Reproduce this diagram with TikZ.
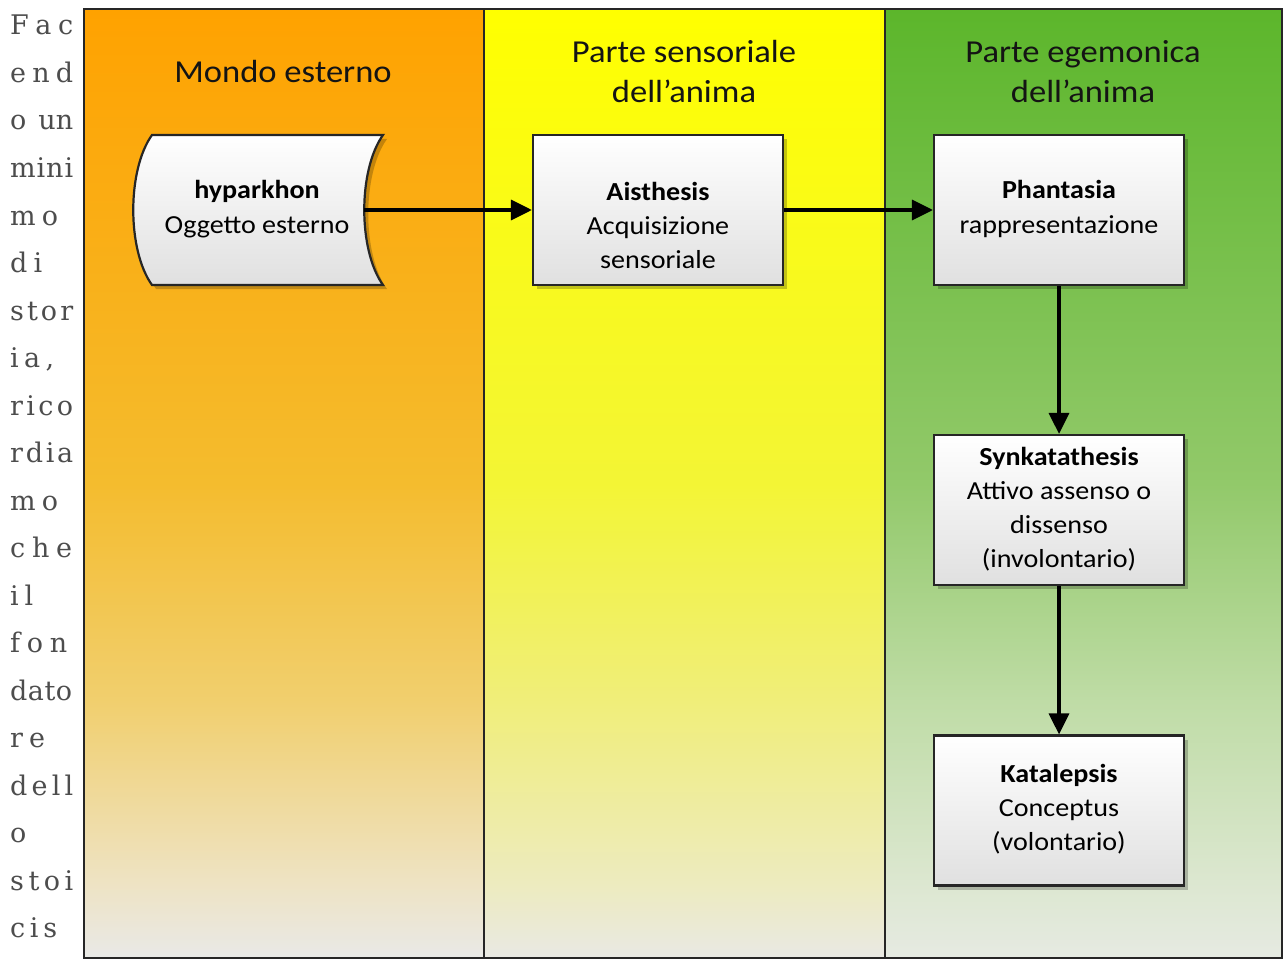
\documentclass[tikz,border=0pt]{standalone}
\usepackage{fontspec}
\setmainfont{Carlito}[FakeStretch=1.08]
\newfontfamily\sidefont{DejaVu Serif}
\usetikzlibrary{arrows.meta,shadows}

\definecolor{oA}{HTML}{E9E9E7}\definecolor{oB}{HTML}{EEE3C3}\definecolor{oC}{HTML}{F1CF6E}\definecolor{oD}{HTML}{F4BC2E}\definecolor{oE}{HTML}{FFA200}
\definecolor{yA}{HTML}{E9E9E4}\definecolor{yB}{HTML}{EDEBBE}\definecolor{yC}{HTML}{F0EE7A}\definecolor{yD}{HTML}{F3F535}\definecolor{yE}{HTML}{FFFF00}
\definecolor{gA}{HTML}{E6EAE2}\definecolor{gB}{HTML}{DCE7D0}\definecolor{gC}{HTML}{BFDCA6}\definecolor{gD}{HTML}{92C96A}\definecolor{gE}{HTML}{5CB62B}
\definecolor{framec}{HTML}{262626}
\definecolor{sidec}{HTML}{4D4D4D}
\definecolor{boxbot}{HTML}{E0E0E0}

\pgfdeclareverticalshading{orangecol}{100bp}{color(0bp)=(oA); color(25bp)=(oA); color(29bp)=(oB); color(38.5bp)=(oC); color(50bp)=(oD); color(75bp)=(oE); color(100bp)=(oE)}
\pgfdeclareverticalshading{yellowcol}{100bp}{color(0bp)=(yA); color(25bp)=(yA); color(29bp)=(yB); color(38.5bp)=(yC); color(50bp)=(yD); color(75bp)=(yE); color(100bp)=(yE)}
\pgfdeclareverticalshading{greencol}{100bp}{color(0bp)=(gA); color(25bp)=(gA); color(29bp)=(gB); color(38.5bp)=(gC); color(50bp)=(gD); color(75bp)=(gE); color(100bp)=(gE)}

\tikzset{
  colframe/.style={draw=framec, line width=2.6pt},
  procbox/.style={draw=framec, line width=2.2pt, top color=white, bottom color=boxbot,
     minimum width=250pt, minimum height=150pt, inner sep=0pt,
     drop shadow={shadow xshift=4pt, shadow yshift=-4pt, fill=black, opacity=0.22}},
  boxtext/.style={align=center, inner sep=0pt, font=\fontsize{26}{34}\selectfont, text=black},
  headtext/.style={align=center, inner sep=0pt, font=\fontsize{32}{40}\selectfont, text=black!92},
  conn/.style={line width=3.4pt, draw=black, -{Triangle[length=21pt,width=20pt]}},
  sidetxt/.style={anchor=base west, inner sep=0pt, font=\sidefont\fontsize{27}{30}\selectfont, text=sidec}
}

\begin{document}
\begin{tikzpicture}[x=1pt,y=1pt]
\useasboundingbox (0,0) rectangle (1284,-960);
\fill[white] (0,0) rectangle (1284,-960);

% side text
\node[sidetxt] (l1) at (10,-35) {\makebox[63pt][s]{F\hfill a\hfill c}};
\node[sidetxt] (l2) at (10,-82.5) {\makebox[63pt][s]{e\hfill n\hfill d}};
\node[sidetxt] (l3) at (10,-130) {\makebox[63pt][s]{o\hfill un}};
\node[sidetxt] (l4) at (10,-177.5) {\makebox[63pt][s]{m\hfill i\hfill n\hfill i}};
\node[sidetxt] (l5) at (10,-225) {\makebox[48pt][s]{m\hfill o}};
\node[sidetxt] (l6) at (10,-272.5) {\makebox[32pt][s]{d\hfill i}};
\node[sidetxt] (l7) at (10,-320) {\makebox[63pt][s]{s\hfill t\hfill o\hfill r}};
\node[sidetxt] (l8) at (10,-367.5) {\makebox[44pt][s]{i\hfill a\hfill ,}};
\node[sidetxt] (l9) at (10,-415) {\makebox[63pt][s]{r\hfill i\hfill c\hfill o}};
\node[sidetxt] (l10) at (10,-462.5) {\makebox[63pt][s]{r\hfill d\hfill i\hfill a}};
\node[sidetxt] (l11) at (10,-510) {\makebox[48pt][s]{m\hfill o}};
\node[sidetxt] (l12) at (10,-557.5) {\makebox[62pt][s]{c\hfill h\hfill e}};
\node[sidetxt] (l13) at (10,-605) {\makebox[23pt][s]{i\hfill l}};
\node[sidetxt] (l14) at (10,-652.5) {\makebox[57pt][s]{f\hfill o\hfill n}};
\node[sidetxt] (l15) at (10,-700) {\makebox[62pt][s]{d\hfill a\hfill t\hfill o}};
\node[sidetxt] (l16) at (10,-747.5) {\makebox[35pt][s]{r\hfill e}};
\node[sidetxt] (l17) at (10,-795) {\makebox[63pt][s]{d\hfill e\hfill l\hfill l}};
\node[sidetxt] (l18) at (10,-842.5) {o};
\node[sidetxt] (l19) at (10,-890) {\makebox[63pt][s]{s\hfill t\hfill o\hfill i}};
\node[sidetxt] (l20) at (10,-937.5) {\makebox[47pt][s]{c\hfill i\hfill s}};

% columns
\shade[shading=orangecol] (84,-9) rectangle (484,-958);
\shade[shading=yellowcol] (484,-9) rectangle (885,-958);
\shade[shading=greencol] (885,-9) rectangle (1282,-958);
\draw[colframe] (84,-9) rectangle (1282,-958);
\draw[colframe] (484,-9) -- (484,-958);
\draw[colframe] (885,-9) -- (885,-958);

% headers (anchor = baseline of last line)
\node[headtext, anchor=base] (h1) at (283,-83) {Mondo esterno};
\node[headtext, anchor=base] (h2) at (684,-103) {Parte sensoriale\\dell’anima};
\node[headtext, anchor=base] (h3) at (1083,-103) {Parte egemonica\\dell’anima};

% hyparkhon stored-data shape
\draw[draw=framec, line width=2.2pt, top color=white, bottom color=boxbot,
      drop shadow={shadow xshift=4pt, shadow yshift=-4pt, fill=black, opacity=0.22}]
  (152,-135) -- (383,-135) .. controls (358,-170) and (358,-250) .. (383,-285)
  -- (152,-285) .. controls (127,-250) and (127,-170) .. (152,-135) -- cycle;
\coordinate (hypR) at (364,-210);
\node[boxtext, anchor=base] (hyp) at (257,-233) {\textbf{hyparkhon}\\Oggetto esterno};

% process boxes
\node[procbox] (ais) at (658,-210) {};
\node[procbox] (pha) at (1059,-210) {};
\node[procbox] (syn) at (1059,-510) {};
\node[procbox] (kat) at (1059,-810.5) {};

\node[boxtext, anchor=base] (aist) at (658,-268) {\textbf{Aisthesis}\\Acquisizione\\sensoriale};
\node[boxtext, anchor=base] (phat) at (1059,-233) {\textbf{Phantasia}\\rappresentazione};
\node[boxtext, anchor=base] (synt) at (1059,-567) {\textbf{Synkatathesis}\\Attivo assenso o\\dissenso\\(involontario)};
\node[boxtext, anchor=base] (katt) at (1059,-850) {\textbf{Katalepsis}\\Conceptus\\(volontario)};

% connectors
\draw[conn] (hypR) -- (ais.west);
\draw[conn] (ais.east) -- (pha.west);
\draw[conn] (pha.south) -- (syn.north);
\draw[conn] (syn.south) -- (kat.north);
\end{tikzpicture}
\end{document}
